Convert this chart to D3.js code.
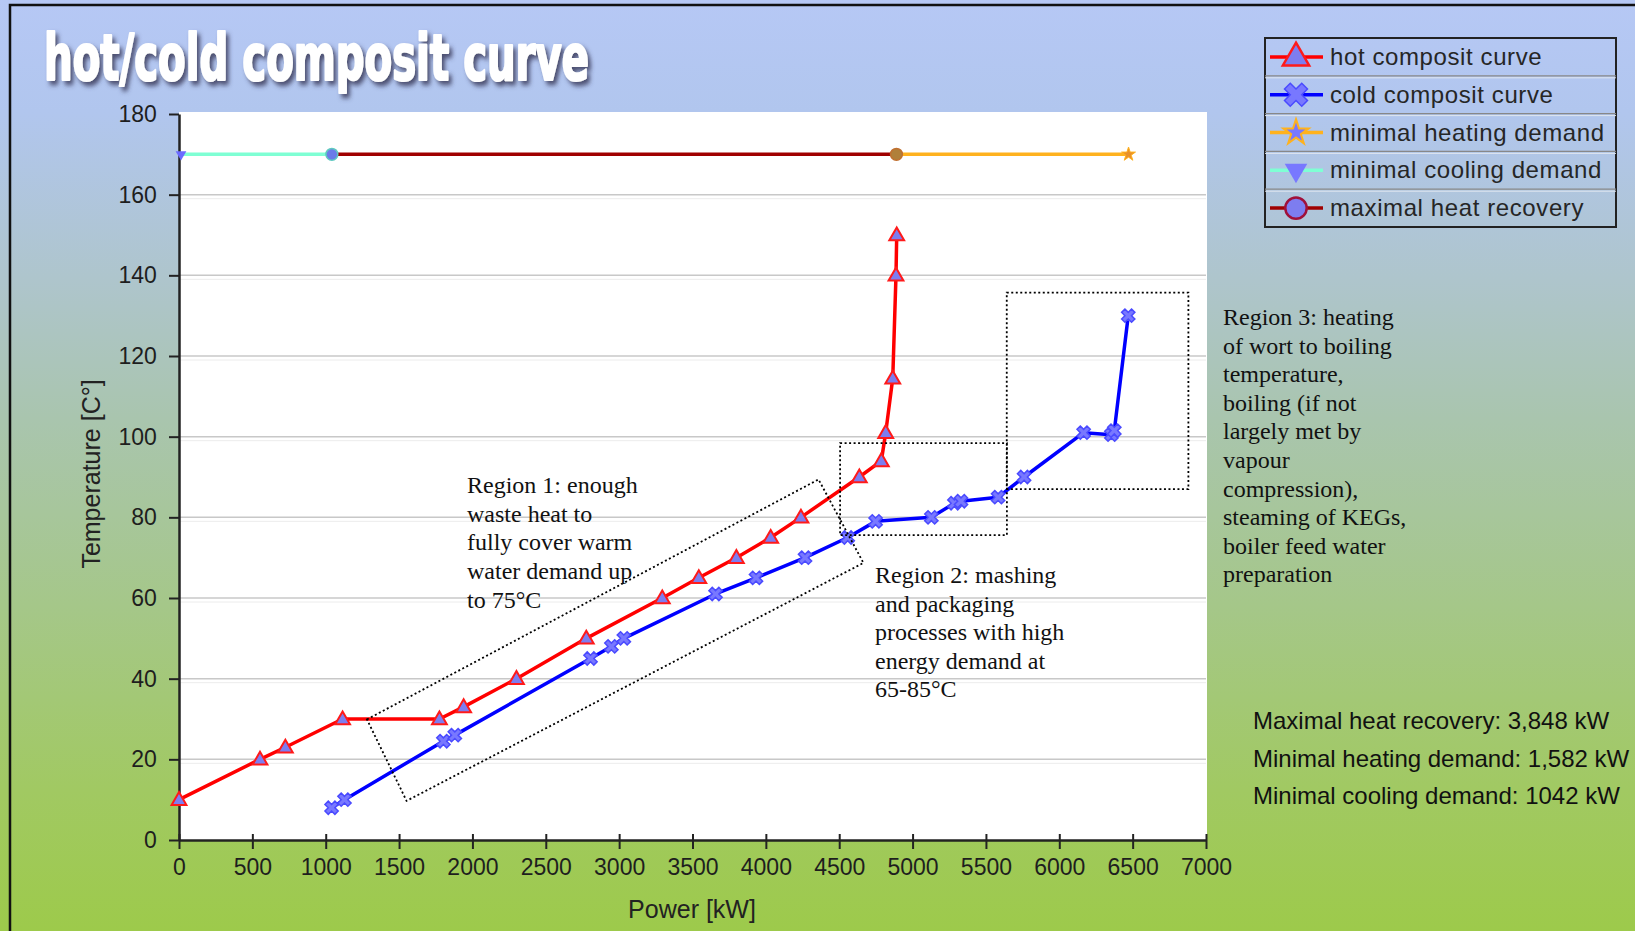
<!DOCTYPE html>
<html>
<head>
<meta charset="utf-8">
<script src="https://cdn.jsdelivr.net/npm/d3@7"></script>
<style>
html,body{margin:0;padding:0;background:#fff;}
svg{display:block;}
</style>
</head>
<body>
<svg id="chart" width="1635" height="931"></svg>
<script>
// ---------- data ----------
const hotPower = [0, 552, 725, 1115, 1775, 1940, 2300, 2776, 3294, 3543, 3799, 4033, 4239, 4637, 4787, 4817, 4865, 4887, 4892];
const hotTemp  = [10, 20, 23, 30, 30, 33, 40, 50, 60, 65, 70, 75, 80, 90, 94, 101, 114.5, 140, 150];
const coldPower = [1040, 1128, 1802, 1880, 2805, 2947, 3032, 3657, 3933, 4267, 4558, 4748, 5128, 5285, 5330, 5583, 5760, 6166, 6355, 6375, 6470];
const coldTemp  = [8, 10, 24.5, 26, 45, 48, 50, 61, 65, 70, 75, 79, 80, 83.5, 84, 85, 90, 101, 100.5, 101.5, 130];
const coolingPower = [0, 1042];
const recoveryPower = [1042, 4890];
const heatingPower = [4890, 6472];
const lineTemp = 170;
const xTicks = [0, 500, 1000, 1500, 2000, 2500, 3000, 3500, 4000, 4500, 5000, 5500, 6000, 6500, 7000];
const yTicks = [0, 20, 40, 60, 80, 100, 120, 140, 160, 180];
const legendLabels = ["hot composit curve", "cold composit curve", "minimal heating demand", "minimal cooling demand", "maximal heat recovery"];
const summaryLines = ["Maximal heat recovery: 3,848 kW", "Minimal heating demand: 1,582 kW", "Minimal cooling demand: 1042 kW"];
const region1Corners = [[1281, 29.9], [4359, 89.4], [4665, 68.7], [1551, 9.7]];
const region2Box = [[4506, 98.4], [5643, 75.6]];
const region3Box = [[5642, 135.7], [6880, 87.0]];
const region1Text = ["Region 1: enough", "waste heat to", "fully cover warm", "water demand up", "to 75°C"];
const region2Text = ["Region 2: mashing", "and packaging", "processes with high", "energy demand at", "65-85°C"];
const region3Text = ["Region 3: heating", "of wort to boiling", "temperature,", "boiling (if not", "largely met by", "vapour", "compression),", "steaming of KEGs,", "boiler feed water", "preparation"];

// ---------- setup ----------
const svg = d3.select("#chart");
const defs = svg.append("defs");
const grad = defs.append("linearGradient").attr("id","bg").attr("x1",0).attr("y1",0).attr("x2",0).attr("y2",1);
[["0%","#b6c8f5"],["12%","#b1c6ee"],["30%","#aec5cc"],["45%","#a9c5ae"],["65%","#a5c789"],["85%","#a1c962"],["100%","#9dca4b"]]
  .forEach(s=>grad.append("stop").attr("offset",s[0]).attr("stop-color",s[1]));
const shadow = defs.append("filter").attr("id","tshadow").attr("x","-10%").attr("y","-30%").attr("width","130%").attr("height","170%");
shadow.append("feGaussianBlur").attr("in","SourceAlpha").attr("stdDeviation",2).attr("result","b");
shadow.append("feOffset").attr("in","b").attr("dx",3).attr("dy",3).attr("result","o");
shadow.append("feFlood").attr("flood-color","#3a3a5a").attr("flood-opacity",0.85);
shadow.append("feComposite").attr("in2","o").attr("operator","in").attr("result","s");
const mg = shadow.append("feMerge");
mg.append("feMergeNode").attr("in","s");
mg.append("feMergeNode").attr("in","SourceGraphic");

svg.append("rect").attr("width",1635).attr("height",931).attr("fill","url(#bg)");
// frame
svg.append("path").attr("d","M10,931 L10,5 L1635,5").attr("fill","none").attr("stroke","#111").attr("stroke-width",2.5);

const x = d3.scaleLinear().domain([0,7000]).range([179,1206]);
const y = d3.scaleLinear().domain([0,180]).range([840,114]);

// plot area
svg.append("rect").attr("x",x(0)).attr("y",y(180)-2).attr("width",x(7000)-x(0)+1).attr("height",y(0)-y(180)+2).attr("fill","#fff");

// grid
const grid = svg.append("g");
yTicks.filter(t=>t>0 && t<180).forEach(t=>{
  grid.append("line").attr("x1",x(0)).attr("x2",x(7000)).attr("y1",y(t)).attr("y2",y(t)).attr("stroke","#c8c8c8").attr("stroke-width",1.5);
  grid.append("line").attr("x1",x(0)).attr("x2",x(7000)).attr("y1",y(t)+4).attr("y2",y(t)+4).attr("stroke","#ececec").attr("stroke-width",1);
});

// title
svg.append("text").attr("x",44).attr("y",0)
  .attr("transform","translate(0,80) scale(1,1.38)")
  .attr("font-family","'Liberation Sans Narrow','DejaVu Sans Condensed',sans-serif")
  .attr("font-weight","bold").attr("font-size",47).attr("fill","#fff")
  .attr("stroke","#fff").attr("stroke-width",1.6).attr("stroke-linejoin","round")
  .attr("textLength",545).attr("lengthAdjust","spacingAndGlyphs")
  .attr("filter","url(#tshadow)")
  .text("hot/cold composit curve");

// axes
const axFont = "'Liberation Sans',Arial,sans-serif";
const xAxis = svg.append("g").attr("transform",`translate(0,${y(0)})`)
  .call(d3.axisBottom(x).tickValues(xTicks).tickFormat(d3.format("d")).tickSize(9).tickSizeOuter(0));
const yAxis = svg.append("g").attr("transform",`translate(${x(0)},0)`)
  .call(d3.axisLeft(y).tickValues(yTicks).tickFormat(d3.format("d")).tickSize(10).tickSizeOuter(0));
[xAxis,yAxis].forEach(a=>{
  a.select(".domain").attr("stroke","#222").attr("stroke-width",2.5);
  a.selectAll(".tick line").attr("stroke","#222").attr("stroke-width",2);
  a.selectAll(".tick text").attr("font-family",axFont).attr("font-size",23).attr("fill","#1e1e1e");
});
xAxis.selectAll(".tick line").attr("y1",-6);
xAxis.selectAll(".tick text").attr("dy","1.02em");
yAxis.selectAll(".tick text").attr("dx","-0.4em");

svg.append("text").attr("x",692).attr("y",918).attr("text-anchor","middle")
  .attr("font-family",axFont).attr("font-size",25).attr("fill","#222").text("Power [kW]");
svg.append("text").attr("transform","translate(100,474) rotate(-90)").attr("text-anchor","middle")
  .attr("font-family",axFont).attr("font-size",25).attr("fill","#222").text("Temperature [C°]");

// ---------- symbols ----------
const tri = d3.symbol().type(d3.symbolTriangle);
const crossSym = d3.symbol().type(d3.symbolCross);
const circ = d3.symbol().type(d3.symbolCircle);
const star = d3.symbol().type(d3.symbolStar);
const line = d3.line().x(d=>x(d[0])).y(d=>y(d[1]));

function drawSeries(pts, color, width){
  svg.append("path").datum(pts).attr("d",line).attr("fill","none").attr("stroke",color).attr("stroke-width",width).attr("stroke-linejoin","round");
}

// horizontal demand lines at 170
const coolPts = coolingPower.map(p=>[p,lineTemp]);
const recPts = recoveryPower.map(p=>[p,lineTemp]);
const heatPts = heatingPower.map(p=>[p,lineTemp]);
drawSeries(coolPts,"#7fffd4",3.5);
drawSeries(recPts,"#a00000",3.5);
drawSeries(heatPts,"#ffb21e",3.5);
// markers
svg.selectAll(".cm").data(coolPts.slice(0,1)).enter().append("path")
  .attr("d",tri.size(50)()).attr("transform",d=>`translate(${x(d[0])+2},${y(d[1])}) rotate(180)`).attr("fill","#6b6bff");
svg.selectAll(".rm").data(recPts).enter().append("path")
  .attr("d",circ.size(110)()).attr("transform",d=>`translate(${x(d[0])},${y(d[1])})`)
  .attr("fill",(d,i)=>i===0?"#6b7be8":"#b0803a").attr("stroke",(d,i)=>i===0?"#5fc9c0":"#c07030").attr("stroke-width",1.5);
svg.selectAll(".hm").data(heatPts.slice(1)).enter().append("path")
  .attr("d",star.size(60)()).attr("transform",d=>`translate(${x(d[0])},${y(d[1])})`).attr("fill","#e8902a").attr("stroke","#ffb21e");

// hot & cold composite
const hotPts = hotPower.map((p,i)=>[p,hotTemp[i]]);
const coldPts = coldPower.map((p,i)=>[p,coldTemp[i]]);
drawSeries(hotPts,"#ff0000",3.5);
drawSeries(coldPts,"#0000ff",3.5);
svg.selectAll(".hotm").data(hotPts).enter().append("path")
  .attr("d",tri.size(95)()).attr("transform",d=>`translate(${x(d[0])},${y(d[1])+1})`)
  .attr("fill","#7d7df0").attr("stroke","#ff1a1a").attr("stroke-width",2);
svg.selectAll(".coldm").data(coldPts).enter().append("path")
  .attr("d",crossSym.size(110)()).attr("transform",d=>`translate(${x(d[0])},${y(d[1])}) rotate(45)`)
  .attr("fill","#7878ff").attr("stroke","#4a4aff").attr("stroke-width",1.5);

// ---------- region annotations ----------
const dotted = {stroke:"#000","stroke-width":1.8,"stroke-dasharray":"2,2.5",fill:"none"};
function applyAttrs(sel,o){Object.entries(o).forEach(([k,v])=>sel.attr(k,v));return sel;}
applyAttrs(svg.append("path").attr("d","M"+region1Corners.map(c=>x(c[0])+","+y(c[1])).join("L")+"Z"),dotted);
[region2Box,region3Box].forEach(b=>{
  applyAttrs(svg.append("rect").attr("x",x(b[0][0])).attr("y",y(b[0][1]))
    .attr("width",x(b[1][0])-x(b[0][0])).attr("height",y(b[1][1])-y(b[0][1])),dotted);
});
function block(lines,x0,y0,dy){
  const t = svg.append("text").attr("font-family","'Liberation Serif','Times New Roman',serif").attr("font-size",24).attr("fill","#111");
  lines.forEach((l,i)=>t.append("tspan").attr("x",x0).attr("y",y0+i*dy).text(l));
}
block(region1Text,467,493,28.7);
block(region2Text,875,583,28.6);
block(region3Text,1223,325,28.6);

// summary
const st = svg.append("text").attr("font-family",axFont).attr("font-size",24).attr("fill","#111");
summaryLines.forEach((l,i)=>st.append("tspan").attr("x",1253).attr("y",729+i*37.5).text(l));

// ---------- legend ----------
const lg = svg.append("g");
const lx0=1265, ly0=38, rowH=37.8, lw=351;
lg.append("rect").attr("x",lx0).attr("y",ly0).attr("width",lw).attr("height",rowH*5).attr("fill","none").attr("stroke","#222").attr("stroke-width",2);
for(let i=1;i<5;i++){
  lg.append("line").attr("x1",lx0).attr("x2",lx0+lw).attr("y1",ly0+i*rowH).attr("y2",ly0+i*rowH).attr("stroke","#888").attr("stroke-width",1.2);
  lg.append("line").attr("x1",lx0).attr("x2",lx0+lw).attr("y1",ly0+i*rowH+2).attr("y2",ly0+i*rowH+2).attr("stroke","#dfe6ef").attr("stroke-width",1);
}
const legColors = ["#ff0000","#0000ff","#ffb21e","#7fffd4","#a00000"];
legendLabels.forEach((lab,i)=>{
  const cy = ly0+rowH*i+rowH/2;
  lg.append("line").attr("x1",lx0+5).attr("x2",lx0+58).attr("y1",cy).attr("y2",cy).attr("stroke",legColors[i]).attr("stroke-width",3.5);
  const m = lg.append("path").attr("transform",`translate(${lx0+31},${cy})`);
  if(i===0) m.attr("d",tri.size(300)()).attr("fill","#7d7df0").attr("stroke","#ff1a1a").attr("stroke-width",2.5).attr("transform",`translate(${lx0+31},${cy+1})`);
  if(i===1) m.attr("d",crossSym.size(330)()).attr("fill","#7878ff").attr("stroke","#4a4aff").attr("stroke-width",1.5).attr("transform",`translate(${lx0+31},${cy}) rotate(45)`);
  if(i===2) m.attr("d",star.size(200)()).attr("fill","#7878ff").attr("stroke","#ffb21e").attr("stroke-width",2);
  if(i===3) m.attr("d",tri.size(220)()).attr("fill","#7878ff").attr("transform",`translate(${lx0+31},${cy}) rotate(180)`);
  if(i===4) m.attr("d",circ.size(360)()).attr("fill","#7d7df0").attr("stroke","#a0103a").attr("stroke-width",2.5);
  lg.append("text").attr("x",lx0+65).attr("y",cy+8).attr("font-family",axFont).attr("font-size",24).attr("letter-spacing",0.6).attr("fill","#262626").text(lab);
});
</script>
</body>
</html>
